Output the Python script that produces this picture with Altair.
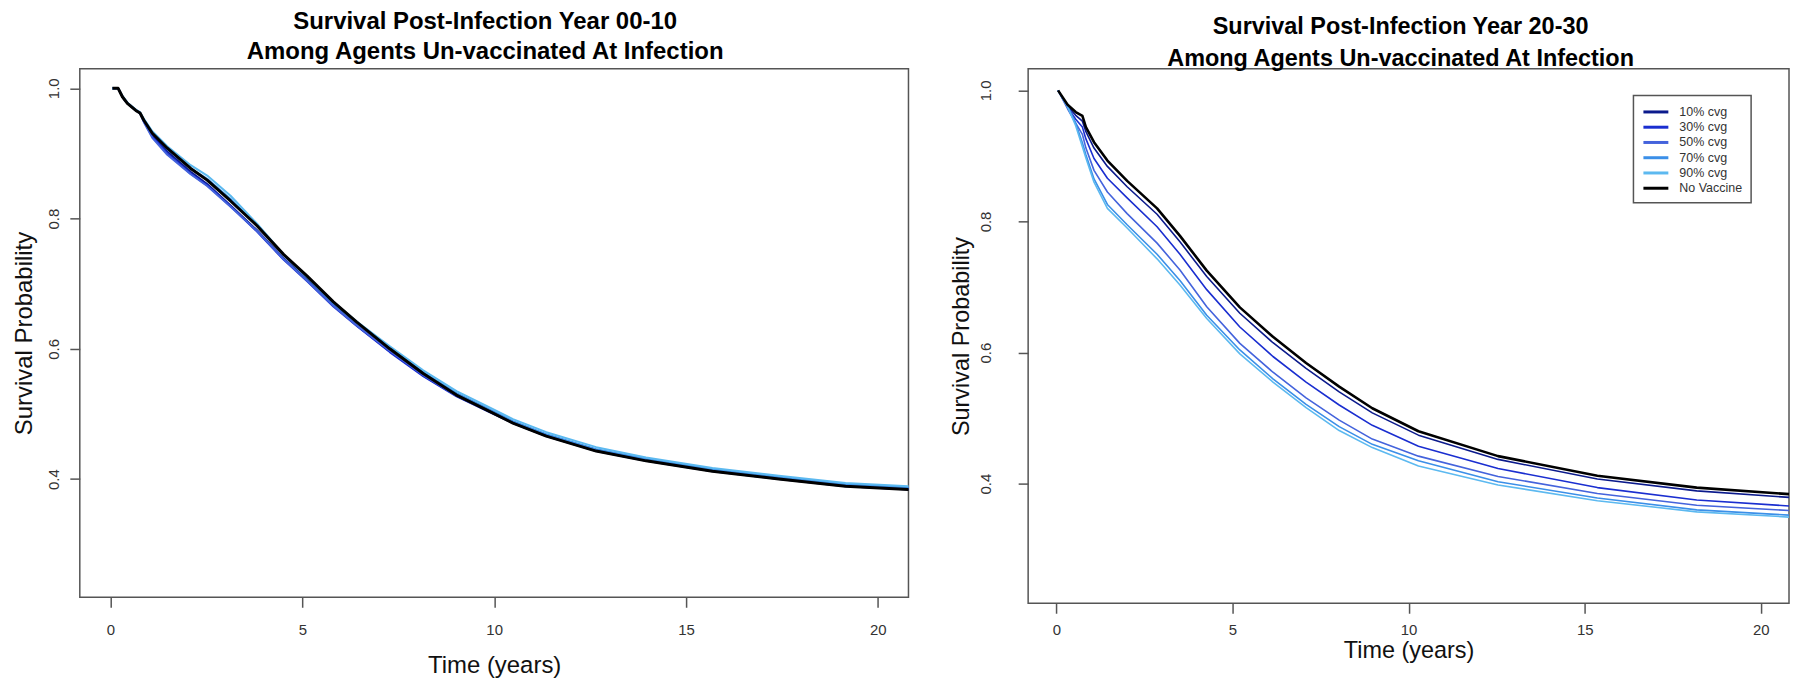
import altair as alt
import pandas as pd

FONT = "Liberation Sans"

SERIES = ["10% cvg", "30% cvg", "50% cvg", "70% cvg", "90% cvg", "No Vaccine"]
COLORS = ["#0b1a8c", "#1a2ed0", "#4463dc", "#3b8fe8", "#5cb9f0", "#000000"]

TITLE_LEFT = ["Survival Post-Infection Year 00-10", "Among Agents Un-vaccinated At Infection"]
TITLE_RIGHT = ["Survival Post-Infection Year 20-30", "Among Agents Un-vaccinated At Infection"]
X_TITLE = "Time (years)"
Y_TITLE = "Survival Probability"
X_TICKS = [0, 5, 10, 15, 20]
Y_TICKS = [0.4, 0.6, 0.8, 1.0]

# ---- left panel (year 00-10) ----
left_time = [0.05, 0.2, 0.31, 0.44, 0.66, 0.77, 0.87, 1.09, 1.48, 2.09, 2.52, 3.13, 3.82, 4.51, 5.12,
             5.81, 6.42, 7.28, 8.15, 9.02, 9.88, 10.49, 11.36, 12.66, 13.96, 15.69, 17.42, 19.16, 20.8]
left_c10 = [1.0, 1.0, 0.987, 0.977, 0.966, 0.962, 0.950, 0.928, 0.903, 0.872, 0.853, 0.820, 0.782, 0.739, 0.706,
            0.667, 0.636, 0.596, 0.559, 0.528, 0.504, 0.486, 0.466, 0.443, 0.428, 0.412, 0.400, 0.389, 0.384]
left_c30 = [1.0, 1.0, 0.987, 0.977, 0.966, 0.962, 0.949, 0.926, 0.900, 0.869, 0.851, 0.819, 0.780, 0.737, 0.704,
            0.665, 0.635, 0.595, 0.558, 0.527, 0.503, 0.486, 0.466, 0.444, 0.429, 0.413, 0.401, 0.390, 0.386]
left_c50 = [1.0, 1.0, 0.987, 0.977, 0.966, 0.962, 0.948, 0.924, 0.898, 0.868, 0.850, 0.818, 0.781, 0.738, 0.705,
            0.666, 0.636, 0.597, 0.560, 0.528, 0.504, 0.487, 0.467, 0.445, 0.430, 0.414, 0.402, 0.391, 0.386]
left_c70 = [1.0, 1.0, 0.988, 0.978, 0.967, 0.963, 0.952, 0.932, 0.907, 0.877, 0.861, 0.830, 0.789, 0.744, 0.710,
            0.670, 0.640, 0.601, 0.564, 0.532, 0.507, 0.489, 0.469, 0.446, 0.431, 0.415, 0.403, 0.392, 0.387]
left_c90 = [1.0, 1.0, 0.988, 0.978, 0.967, 0.963, 0.953, 0.934, 0.911, 0.882, 0.866, 0.835, 0.792, 0.745, 0.711,
            0.672, 0.642, 0.604, 0.567, 0.535, 0.510, 0.492, 0.472, 0.449, 0.433, 0.417, 0.405, 0.394, 0.389]
left_none = [1.0, 1.0, 0.987, 0.977, 0.966, 0.962, 0.951, 0.931, 0.908, 0.877, 0.859, 0.827, 0.789, 0.745, 0.712,
             0.672, 0.641, 0.600, 0.562, 0.529, 0.504, 0.486, 0.466, 0.443, 0.428, 0.412, 0.400, 0.389, 0.384]

# ---- right panel (year 20-30) ----
right_time = [0.05, 0.32, 0.55, 0.74, 0.84, 1.07, 1.45, 2.01, 2.86, 3.51, 4.27, 5.21, 6.15, 7.09, 8.03,
              8.97, 10.28, 12.54, 15.36, 18.18, 20.8]
right_c10 = [1.0, 0.976, 0.962, 0.953, 0.937, 0.912, 0.884, 0.853, 0.811, 0.769, 0.716, 0.660, 0.615, 0.576, 0.540,
             0.508, 0.474, 0.437, 0.407, 0.389, 0.379]
right_c30 = [1.0, 0.974, 0.956, 0.944, 0.926, 0.896, 0.866, 0.836, 0.792, 0.750, 0.696, 0.639, 0.594, 0.555, 0.520,
             0.489, 0.457, 0.423, 0.394, 0.375, 0.366]
right_c50 = [1.0, 0.972, 0.950, 0.933, 0.912, 0.878, 0.845, 0.812, 0.767, 0.726, 0.670, 0.614, 0.570, 0.531, 0.497,
             0.468, 0.442, 0.411, 0.385, 0.367, 0.359]
right_c70 = [1.0, 0.976, 0.950, 0.920, 0.902, 0.865, 0.826, 0.795, 0.750, 0.710, 0.657, 0.604, 0.560, 0.521, 0.487,
             0.460, 0.435, 0.403, 0.378, 0.360, 0.352]
right_c90 = [1.0, 0.975, 0.946, 0.914, 0.897, 0.860, 0.820, 0.790, 0.743, 0.703, 0.652, 0.598, 0.555, 0.516, 0.481,
             0.455, 0.427, 0.398, 0.374, 0.357, 0.349]
right_none = [1.0, 0.978, 0.967, 0.961, 0.944, 0.921, 0.893, 0.862, 0.820, 0.778, 0.725, 0.669, 0.624, 0.584, 0.548,
              0.515, 0.480, 0.442, 0.412, 0.394, 0.384]


def long_df(times, columns):
    rows = []
    for name, vals in zip(SERIES, columns):
        for t, s in zip(times, vals):
            rows.append({"series": name, "t": t, "s": s})
    return pd.DataFrame(rows)


left_df = long_df(left_time, [left_c10, left_c30, left_c50, left_c70, left_c90, left_none])
right_df = long_df(right_time, [right_c10, right_c30, right_c50, right_c70, right_c90, right_none])


def panel(df, width, height, ydom, title, title_fs, tdx, toff, tlh,
          xlabpad, xtitley, ylabpad, ytitlex, axis_title_fs, blue_w, black_w):
    xs = alt.Scale(domain=[-0.8, 20.8], nice=False, zero=False)
    ys = alt.Scale(domain=ydom, nice=False, zero=False)
    xaxis = alt.Axis(values=X_TICKS, title=X_TITLE, grid=False, domain=False, labelFlush=False,
                     labelPadding=xlabpad, labelAlign="center", labelBaseline="alphabetic",
                     titleX=width / 2, titleY=xtitley, titleAlign="center", titleBaseline="alphabetic",
                     titleFontSize=axis_title_fs)
    yaxis = alt.Axis(values=Y_TICKS, format=".1f", title=Y_TITLE, grid=False, domain=False, labelFlush=False,
                     labelAngle=-90, labelAlign="center", labelBaseline="alphabetic", labelPadding=ylabpad,
                     titleAngle=-90, titleX=ytitlex, titleY=height / 2, titleAlign="center",
                     titleBaseline="alphabetic", titleFontSize=axis_title_fs)
    base = alt.Chart(df)
    blues = base.transform_filter(alt.datum.series != "No Vaccine").mark_line(
        strokeWidth=blue_w, strokeJoin="round").encode(
        x=alt.X("t:Q", scale=xs, axis=xaxis),
        y=alt.Y("s:Q", scale=ys, axis=yaxis),
        color=alt.Color("series:N", scale=alt.Scale(domain=SERIES, range=COLORS), legend=None),
        order=alt.Order("t:Q"),
    )
    black = base.transform_filter(alt.datum.series == "No Vaccine").mark_line(
        strokeWidth=black_w, color="black", strokeJoin="round").encode(
        x=alt.X("t:Q", scale=xs, axis=xaxis),
        y=alt.Y("s:Q", scale=ys, axis=yaxis),
        order=alt.Order("t:Q"),
    )
    tp = alt.TitleParams(text=title, fontSize=title_fs, fontWeight="bold", font=FONT, color="black",
                         lineHeight=tlh, offset=toff, anchor="middle", frame="group", dx=tdx)
    return [blues, black], tp


left_layers, left_title = panel(left_df, 831, 530, [0.2185, 1.03], TITLE_LEFT, 24, -9, 5, 30,
                                27.4, 75, 11, -48, 24, 2, 3)
left = alt.layer(*left_layers).properties(width=831, height=530, title=left_title)

right_layers, right_title = panel(right_df, 763, 536, [0.2175, 1.033], TITLE_RIGHT, 23.5, -8, -2, 32,
                                  21.4, 54, 28, -60, 23.5, 1.6, 2.6)

# manual legend (R style box)
leg_df = pd.DataFrame({"label": SERIES, "col": COLORS, "idx": list(range(len(SERIES)))})
leg = alt.Chart(leg_df).transform_calculate(ly="43.3 + 15.3 * datum.idx")
leg_box = alt.Chart(pd.DataFrame({"k": [0]})).mark_rect(fill="white", stroke="#555", strokeWidth=1.5).encode(
    x=alt.value(607), x2=alt.value(725), y=alt.value(26.7), y2=alt.value(134.3))
leg_lines = leg.mark_rule(strokeWidth=3).encode(
    x=alt.value(617), x2=alt.value(642),
    y=alt.Y("ly:Q", scale=None, axis=None),
    color=alt.Color("col:N", scale=None, legend=None))
leg_text = leg.mark_text(align="left", baseline="middle", fontSize=12.5, font=FONT, color="#333").encode(
    x=alt.value(653), y=alt.Y("ly:Q", scale=None, axis=None), text="label:N")

right = alt.layer(*right_layers, leg_box, leg_lines, leg_text).properties(
    width=763, height=536, title=right_title)

chart = alt.hconcat(left, right, spacing=37).resolve_scale(color="independent").properties(
    padding={"left": 4, "top": 0, "right": 0, "bottom": 0}, background="white"
).configure_view(stroke="#555", strokeWidth=1.5).configure_axis(
    tickColor="#555", tickWidth=1.5, tickSize=10,
    labelFont=FONT, labelFontSize=15, labelColor="#333",
    titleFont=FONT, titleFontWeight="normal", titleColor="#111")

chart.save("out.html", embed_options={"renderer": "svg", "actions": False})
